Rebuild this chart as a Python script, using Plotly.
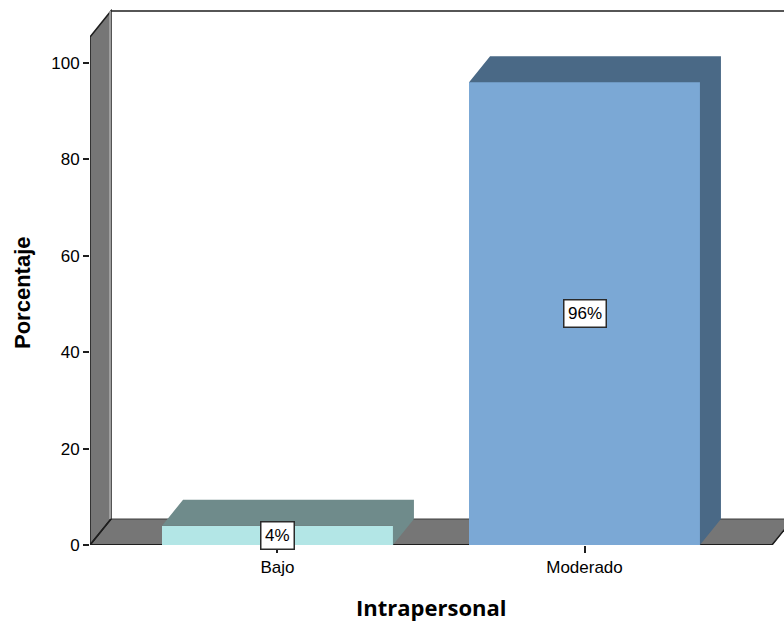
import plotly.graph_objects as go

# Chart data
categories = ["Bajo", "Moderado"]
percentages = [4, 96]
y_ticks = [0, 20, 40, 60, 80, 100]

# Styling
front_colors = ["#B3E6E6", "#7BA8D5"]
shade_colors = ["#6F8B8B", "#4A6986"]
wall_fill = "#767676"
edge_color = "#1E1E1E"
BAR_WIDTH = 0.752
DEPTH_X = 0.0684      # depth offset along x (data units)
DEPTH_Y = 5.39        # depth offset along y (data units)
X_LO, X_HI = -0.6107, 1.6107   # front extent of the floor
WALL_TOP = 105.4               # front top of the side wall
Y_MAX = 111.4
X_MAX = 1.6498

positions = list(range(len(categories)))

fig = go.Figure()

# Front faces of the bars
fig.add_trace(go.Bar(
    x=positions, y=percentages, width=BAR_WIDTH,
    marker=dict(color=front_colors, line=dict(width=0)),
    hoverinfo="skip", showlegend=False,
))

# Top + right side of each bar (extruded)
for pos, val, col in zip(positions, percentages, shade_colors):
    xl, xr = pos - BAR_WIDTH / 2, pos + BAR_WIDTH / 2
    xs = [xl, xr, xr, xr + DEPTH_X, xr + DEPTH_X, xl + DEPTH_X, xl]
    ys = [val, val, 0, DEPTH_Y, val + DEPTH_Y, val + DEPTH_Y, val]
    fig.add_trace(go.Scatter(
        x=xs, y=ys, mode="lines", fill="toself", fillcolor=col,
        line=dict(width=0, color=col), hoverinfo="skip", showlegend=False,
    ))

shapes = []
# Floor
shapes.append(dict(
    type="path", layer="below", xref="x", yref="y",
    path=(f"M {X_LO},0 L {X_HI},0 L {X_HI + DEPTH_X},{DEPTH_Y} "
          f"L {X_LO + DEPTH_X},{DEPTH_Y} Z"),
    fillcolor=wall_fill, line=dict(color="#3A3A3A", width=1),
))
# Side wall
shapes.append(dict(
    type="path", layer="below", xref="x", yref="y",
    path=(f"M {X_LO},0 L {X_LO},{WALL_TOP} L {X_LO + DEPTH_X},{WALL_TOP + DEPTH_Y} "
          f"L {X_LO + DEPTH_X},{DEPTH_Y} Z"),
    fillcolor=wall_fill, line=dict(color=edge_color, width=1.5),
))
# Light inner edge where side wall meets back wall
shapes.append(dict(
    type="line", layer="below", xref="x", yref="y",
    x0=X_LO + DEPTH_X - 0.003, x1=X_LO + DEPTH_X - 0.003,
    y0=DEPTH_Y, y1=WALL_TOP + DEPTH_Y,
    line=dict(color="#B4B4B4", width=1.5),
))
# Top edge of back wall
shapes.append(dict(
    type="line", layer="below", xref="x", yref="y",
    x0=X_LO + DEPTH_X, x1=X_MAX + 0.05,
    y0=WALL_TOP + DEPTH_Y, y1=WALL_TOP + DEPTH_Y,
    line=dict(color=edge_color, width=1.5),
))
# Front edge of the floor (base line)
shapes.append(dict(
    type="line", layer="below", xref="x", yref="y",
    x0=X_LO, x1=X_HI, y0=0, y1=0,
    line=dict(color=edge_color, width=2),
))
shapes.append(dict(
    type="line", layer="below", xref="x", yref="y",
    x0=X_HI, x1=X_HI + DEPTH_X, y0=0, y1=DEPTH_Y,
    line=dict(color=edge_color, width=1.5),
))
shapes.append(dict(
    type="line", layer="below", xref="x", yref="y",
    x0=X_LO, x1=X_LO + DEPTH_X, y0=0, y1=DEPTH_Y,
    line=dict(color=edge_color, width=1.5),
))

annotations = []
# Value labels in the middle of each bar
for pos, val in zip(positions, percentages):
    annotations.append(dict(
        x=pos, y=val / 2, xref="x", yref="y", text=f"{val:.0f}%",
        showarrow=False, bgcolor="white", bordercolor="#2A2A2A",
        borderwidth=1.5, borderpad=3.5,
        font=dict(family="Arial, Liberation Sans", size=17, color="black"),
    ))

# Axis titles
annotations.append(dict(
    x=-0.098, y=0.4711, xref="paper", yref="paper", text="<b>Porcentaje</b>",
    textangle=-90, showarrow=False, xanchor="center", yanchor="middle",
    font=dict(family="Arial, Liberation Sans", size=22, color="black"),
))
annotations.append(dict(
    x=0.4914, y=-0.1155, xref="paper", yref="paper", text="<b>Intrapersonal</b>",
    showarrow=False, xanchor="center", yanchor="middle",
    font=dict(family="Open Sans", size=22, color="black"),
))

fig.update_layout(
    width=784, height=621,
    margin=dict(l=90, r=0, t=8, b=76),
    paper_bgcolor="white", plot_bgcolor="white",
    shapes=shapes, annotations=annotations,
    xaxis=dict(
        range=[X_LO, X_MAX], tickvals=positions, ticktext=categories,
        showgrid=False, zeroline=False, showline=False,
        ticks="outside", ticklen=7, tickwidth=1.5, tickcolor=edge_color,
        tickfont=dict(family="Arial, Liberation Sans", size=17, color="black"),
    ),
    yaxis=dict(
        range=[0, Y_MAX], tickvals=y_ticks,
        showgrid=False, zeroline=False, showline=False,
        ticks="outside", ticklen=6, tickwidth=1.5, tickcolor=edge_color,
        tickfont=dict(family="Arial, Liberation Sans", size=17, color="black"),
    ),
    bargap=0,
)

fig.write_html("out.html")
